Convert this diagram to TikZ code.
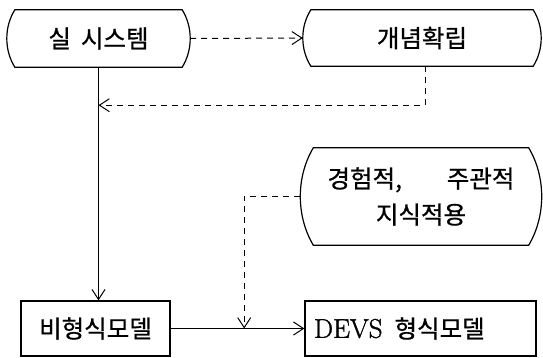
\documentclass[tikz,border=0pt]{standalone}
\usepackage{fontspec}
\newfontfamily\kr{Noto Sans CJK KR}[FakeBold=0.8]
\newfontfamily\devs{Latin Modern Roman}[FakeBold=1.2]
\usetikzlibrary{calc,arrows.meta}

% Outline with flat top/bottom and bowed left/right sides
\newcommand\drawcapsule[2]{%
  \draw[outline] let \p1=(#1.north east), \p2=(#1.south west) in
    (\x1-#2pt,\y1)
      .. controls (\x1+#2pt/3,\y1-0.3*\y1+0.3*\y2) and (\x1+#2pt/3,\y2+0.3*\y1-0.3*\y2) ..
    (\x1-#2pt,\y2) -- (\x2+#2pt,\y2)
      .. controls (\x2-#2pt/3,\y2+0.3*\y1-0.3*\y2) and (\x2-#2pt/3,\y1-0.3*\y1+0.3*\y2) ..
    (\x2+#2pt,\y1) -- cycle;}

\tikzset{
  outline/.style={line width=1.2pt, black},
  capsule/.style={draw=none, inner sep=0pt, font=\kr\fontsize{24.5}{28}\selectfont},
  plainbox/.style={draw, line width=1.2pt, inner sep=0pt, font=\kr\fontsize{24.5}{28}\selectfont},
  flow/.style={line width=1pt, -{Straight Barb[length=10pt,width=13pt,line width=1pt]}},
  dflow/.style={flow, dash pattern=on 6pt off 5pt},
}

\begin{document}
\begin{tikzpicture}[x=1pt,y=-1pt]
  \useasboundingbox (0,0) rectangle (543,357);

  % process nodes
  \node[capsule, minimum width=183pt, minimum height=57pt] (n1) at (98.5,38.5) {실\hspace{10pt}시스템};
  \node[capsule, minimum width=238pt, minimum height=56pt] (n2) at (422,38) {개념확립};
  \node[capsule, minimum width=241pt, minimum height=97pt, align=center] (n3) at (421,196.5)
    {\makebox[187pt]{경험적,\hfill 주관적}\\[8pt]지식적용};
  \node[plainbox, minimum width=149pt, minimum height=55pt] (n4) at (95.5,328.5) {비형식모델};
  \node[plainbox, minimum height=55pt, text width=213pt, inner xsep=9pt, align=left] (n5) at (420.5,328.5)
    {{\devs\fontsize{27}{30}\selectfont DEVS}\hspace{12pt}형식모델};

  \drawcapsule{n1}{8}
  \drawcapsule{n2}{8}
  \drawcapsule{n3}{13}

  % helper points on the solid connectors
  \path (n1.south) ++(0,38) coordinate (fb);
  \coordinate (jn) at ($(n4.east)!0.55!(n5.west)$);

  % connectors
  \draw[dflow] (n1.east) -- (n2.west);
  \draw[dflow] ($(n2.south)+(3,0)$) |- (fb);
  \draw[flow] (n1.south) -- (n1.south |- n4.north);
  \draw[dflow] (n3.west) -| (jn);
  \draw[flow] (n4.east) -- (n5.west);
\end{tikzpicture}
\end{document}
